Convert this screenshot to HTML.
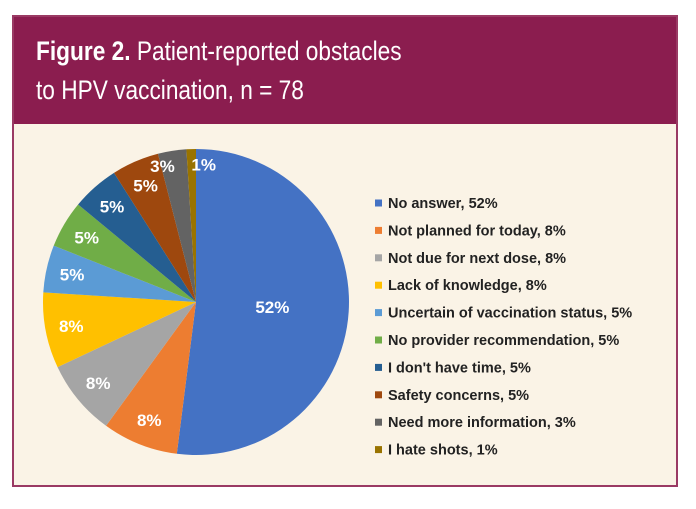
<!DOCTYPE html>
<html><head><meta charset="utf-8"><style>
body{margin:0;background:#fff;width:696px;height:509px;overflow:hidden;font-family:"Liberation Sans",sans-serif}
#frame{position:absolute;left:12px;top:15px;width:662px;height:468px;border:2px solid #9a3a64;background:#faf3e6}
#header{position:absolute;left:0;top:0;width:662px;height:107px;background:#8b1d4f;color:#fff}
#t1{position:absolute;left:22px;top:19px;font-size:27px;white-space:nowrap;transform:scaleX(0.84);transform-origin:0 0}
#t2{position:absolute;left:22px;top:58px;font-size:27px;white-space:nowrap;transform:scaleX(0.84);transform-origin:0 0}
svg{position:absolute;left:0;top:0}
</style></head><body>
<div id="frame">
<div id="header">
<div id="t1"><b>Figure 2.</b> Patient-reported obstacles</div>
<div id="t2">to HPV vaccination, n = 78</div>
</div></div>
<svg id="chart" width="696" height="509"></svg>
<script>
const categories=["No answer","Not planned for today","Not due for next dose","Lack of knowledge","Uncertain of vaccination status","No provider recommendation","I don't have time","Safety concerns","Need more information","I hate shots"];
const values=[52,8,8,8,5,5,5,5,3,1];
const colors=["#4472c4","#ed7d31","#a5a5a5","#ffc000","#5b9bd5","#70ad47","#255e91","#9e480e","#636363","#997300"];
const svg=document.getElementById('chart');
const NS='http://www.w3.org/2000/svg';
const cx=196,cy=302,r=153;
const total=values.reduce((a,b)=>a+b,0);
let a0=0;
function pt(a,rr){return [cx+rr*Math.sin(a),cy-rr*Math.cos(a)];}
values.forEach((v,i)=>{
 const a1=a0+v/total*2*Math.PI;
 const p0=pt(a0,r),p1=pt(a1,r);
 const path=document.createElementNS(NS,'path');
 path.setAttribute('d',`M${cx},${cy}L${p0[0]},${p0[1]}A${r},${r} 0 ${a1-a0>Math.PI?1:0} 1 ${p1[0]},${p1[1]}Z`);
 path.setAttribute('fill',colors[i]);
 
 
 svg.appendChild(path);
 a0=a1;
});
a0=0;
values.forEach((v,i)=>{
 const a1=a0+v/total*2*Math.PI;
 const am=(a0+a1)/2;
 let lp=pt(am,v>20?r*0.5:r*0.83);
 if(v<4){lp=pt(am,r*0.9);lp[0]+=(v<2?12:-12);}
 const t=document.createElementNS(NS,'text');
 t.setAttribute('x',lp[0]);t.setAttribute('y',lp[1]+6);
 t.setAttribute('text-anchor','middle');t.setAttribute('fill','#fff');
 t.setAttribute('font-size','17');t.setAttribute('font-weight','bold');
 t.setAttribute('font-family','Liberation Sans, sans-serif');
 t.textContent=v+'%';
 
 
 svg.appendChild(t);
 a0=a1;
});
categories.forEach((c,i)=>{
 const y=203+i*27.4;
 const g=document.createElementNS(NS,'g');
 
 
 const m=document.createElementNS(NS,'rect');
 m.setAttribute('x',375);m.setAttribute('y',y-3.5);m.setAttribute('width',7);m.setAttribute('height',7);
 m.setAttribute('fill',colors[i]);
 g.appendChild(m);
 const t=document.createElementNS(NS,'text');
 t.setAttribute('x',388);t.setAttribute('y',y+5);
 t.setAttribute('font-size','14.5');t.setAttribute('font-weight','bold');t.setAttribute('fill','#222');
 t.setAttribute('font-family','Liberation Sans, sans-serif');
 t.setAttribute('textLength',String((c.length+5)*7.1));
 t.textContent=c+', '+values[i]+'%';
 t.removeAttribute('textLength');
 g.appendChild(t);
 svg.appendChild(g);
});
</script>
</body></html>
